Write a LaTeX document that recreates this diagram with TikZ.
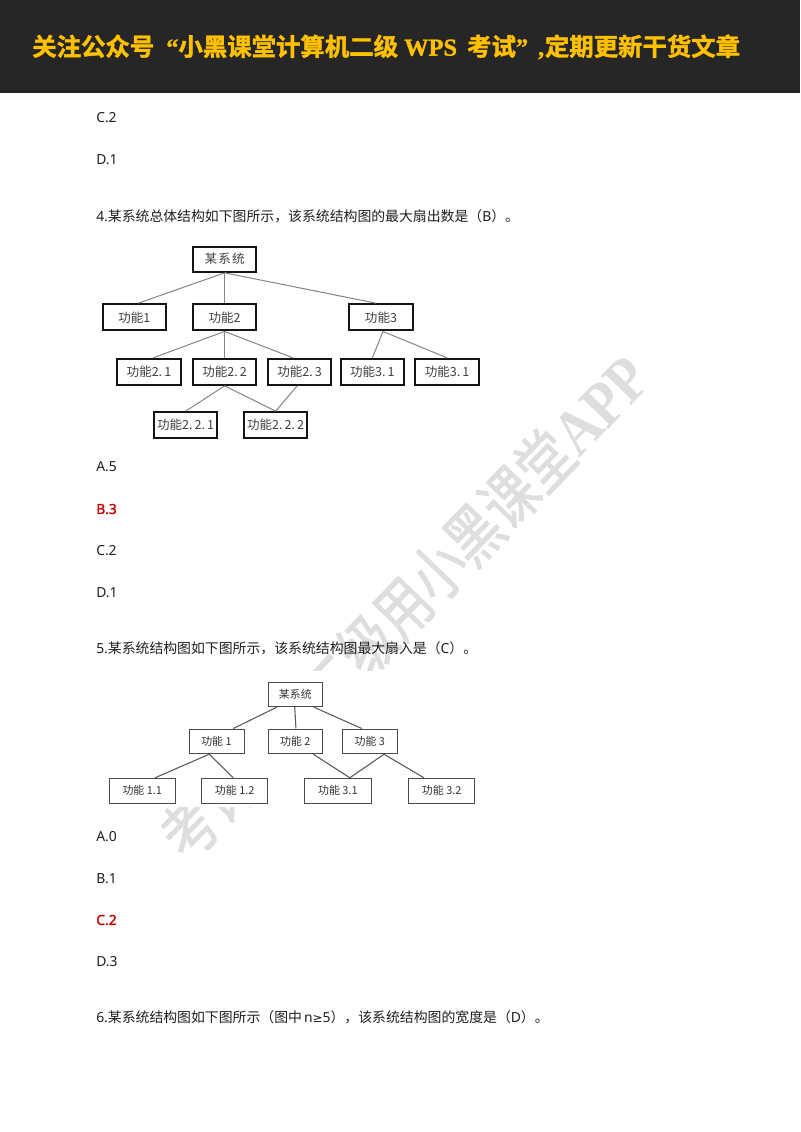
\documentclass[tikz,border=0pt]{standalone}
\usepackage{fontspec}
\usetikzlibrary{calc}
\setmainfont{Noto Sans}
\newfontfamily\cjk{Noto Sans CJK SC}
\newfontfamily\cjkbold[FakeBold=1.6]{Noto Sans CJK SC Bold}
\newfontfamily\latser[FakeBold=1.2]{Liberation Serif Bold}
\newfontfamily\latb[FakeBold=1.4]{Noto Sans}
\newfontfamily\djv{DejaVu Sans}
\newfontfamily\wmlat[FakeStretch=0.86]{Liberation Serif Bold}
\newfontfamily\wmcjk[FakeStretch=0.8,FakeBold=1.2]{Noto Sans CJK SC}
\definecolor{banner}{HTML}{262626}
\definecolor{bannertxt}{HTML}{FFC000}
\definecolor{bodytxt}{HTML}{1F1F1F}
\definecolor{ans}{HTML}{C00000}
\definecolor{wm}{HTML}{DEDEDE}
\tikzset{
  x=0.75pt,y=-0.75pt,
  line/.style={anchor=west,inner sep=0pt,yshift=-0.75pt,font=\fontsize{10.4pt}{12pt}\selectfont,text=bodytxt},
  ansline/.style={anchor=west,inner sep=0pt,yshift=-0.75pt,font=\fontsize{10.4pt}{12pt}\selectfont\latb,text=ans},
  boxa/.style={draw=black!92,line width=1.7pt,fill=white,inner sep=0pt,text=black!75,
     font=\cjk\fontsize{9.4pt}{10pt}\selectfont},
  boxb/.style={draw=black!70,line width=0.75pt,fill=white,inner sep=0pt,text=black!80,
     font=\cjk\fontsize{8.2pt}{10pt}\selectfont},
  edgea/.style={draw=black!48,line width=0.75pt},
  edgeb/.style={draw=black!65,line width=0.8pt},
}
% box given by left, top, right, bottom in pixels
\newcommand{\pbox}[7]{\node[#1,minimum width=(#5-#3)*0.75pt,minimum height=(#6-#4)*0.75pt] (#2) at ({(#3+#5)/2},{(#4+#6)/2}) {#7};}
\begin{document}
\begin{tikzpicture}
\useasboundingbox (0,0) rectangle (800,1132);
\fill[white] (0,0) rectangle (800,1132);
% watermark
\node[rotate=46,text=wm,inner sep=0pt] (wmark) at (404,606)
  {\fontsize{48pt}{50pt}\wmcjk 考计算机二级用小黑课堂\wmlat APP};
\fill[white] (95,671) rectangle (482,807);
% banner
\fill[banner] (0,0) rectangle (800,93);
\node[inner sep=0pt,text=bannertxt,anchor=west] (head) at (32,47)
  {\fontsize{18.3pt}{20pt}\cjkbold 关注公众号\kern9pt\latser “\cjkbold 小黑课堂计算机二级\latser\ WPS\kern3pt\ \cjkbold 考试\latser ”\kern7.5pt,\kern0.5pt\cjkbold 定期更新干货文章};
% body text
\node[line] (t1) at (96,117) {C.2};
\node[line] (t2) at (96,159) {D.1};
\node[line] (q4) at (96,215) {4.{\cjk 某系统总体结构如下图所示，该系统结构图的最大扇出数是（}B{\cjk ）。}};
\node[line] (t3) at (96,466) {A.5};
\node[ansline] (t4) at (96,508) {B.3};
\node[line] (t5) at (96,550) {C.2};
\node[line] (t6) at (96,592) {D.1};
\node[line] (q5) at (96,647) {5.{\cjk 某系统结构图如下图所示，该系统结构图最大扇入是（}C{\cjk ）。}};
\node[line] (t7) at (96,836) {A.0};
\node[line] (t8) at (96,878) {B.1};
\node[ansline] (t9) at (96,919) {C.2};
\node[line] (t10) at (96,961) {D.3};
\node[line] (q6) at (96,1016) {6.{\cjk 某系统结构图如下图所示（图中\kern1.5pt}n{\djv\fontsize{9pt}{12pt}\selectfont ≥}5{\cjk ），该系统结构图的宽度是（}D{\cjk ）。}};
% diagram 1
\pbox{boxa}{a0}{193.3}{246.7}{256}{271.7}{某\kern1pt 系\kern1pt 统}
\pbox{boxa}{a1}{102.7}{304.3}{166}{330.3}{功能1}
\pbox{boxa}{a2}{193.3}{304.3}{256}{330.3}{功能2}
\pbox{boxa}{a3}{349.3}{304.3}{412.7}{330.3}{功能3}
\pbox{boxa}{a21}{117.3}{359}{180.7}{384.7}{功能2.\,1}
\pbox{boxa}{a22}{193.3}{359}{256}{384.7}{功能2.\,2}
\pbox{boxa}{a23}{268}{359}{331.3}{384.7}{功能2.\,3}
\pbox{boxa}{a31}{340.7}{359}{404}{384.7}{功能3.\,1}
\pbox{boxa}{a32}{415.3}{359}{479}{384.7}{功能3.\,1}
\pbox{boxa}{a221}{154}{412.3}{217.3}{437.7}{功能2.\,2.\,1}
\pbox{boxa}{a222}{244}{412.3}{307.3}{437.7}{功能2.\,2.\,2}
\path[edgea] (a0.south) -- ($(a1.north)+(4,0)$);
\path[edgea] (a0.south) -- (a2.north);
\path[edgea] (a0.south) -- ($(a3.north)+(-5,0)$);
\path[edgea] (a2.south) -- ($(a21.north)+(4,0)$);
\path[edgea] (a2.south) -- (a22.north);
\path[edgea] (a2.south) -- ($(a23.north)+(-6.5,0)$);
\path[edgea] ($(a3.south)+(2,0)$) -- (a31.north);
\path[edgea] ($(a3.south)+(2,0)$) -- (a32.north);
\path[edgea] (a22.south) -- (a221.north);
\path[edgea] (a22.south) -- (a222.north);
\path[edgea] ($(a23.south)+(-2.5,0)$) -- (a222.north);
% diagram 2
\pbox{boxb}{b0}{268}{682.3}{322.7}{706.7}{某系统}
\pbox{boxb}{b1}{189}{729}{244}{753.7}{功能 1}
\pbox{boxb}{b2}{268}{729}{322.7}{753.7}{功能 2}
\pbox{boxb}{b3}{342.3}{729}{397.3}{753.7}{功能 3}
\pbox{boxb}{b11}{109.3}{778.3}{175.3}{803.3}{功能 1.1}
\pbox{boxb}{b12}{201.7}{778.3}{267.7}{803.3}{功能 1.2}
\pbox{boxb}{b31}{304.7}{778.3}{371}{803.3}{功能 3.1}
\pbox{boxb}{b32}{408.7}{778.3}{474.7}{803.3}{功能 3.2}
\path[edgeb] ($(b0.south)+(-18.6,0)$) -- ($(b1.north)+(16.8,0)$);
\path[edgeb] ($(b0.south)+(-0.6,0)$) -- ($(b2.north)+(0.6,0)$);
\path[edgeb] ($(b0.south)+(18.6,0)$) -- ($(b3.north)+(-8,0)$);
\path[edgeb] ($(b1.south)+(-7.2,0)$) -- ($(b11.north)+(12.7,0)$);
\path[edgeb] ($(b1.south)+(-7.2,0)$) -- ($(b12.north)+(-1.4,0)$);
\path[edgeb] ($(b2.south)+(18,0)$) -- ($(b31.north)+(12,0)$);
\path[edgeb] ($(b3.south)+(14.2,0)$) -- ($(b31.north)+(12,0)$);
\path[edgeb] ($(b3.south)+(14.2,0)$) -- ($(b32.north)+(-17.7,0)$);
\end{tikzpicture}
\end{document}
